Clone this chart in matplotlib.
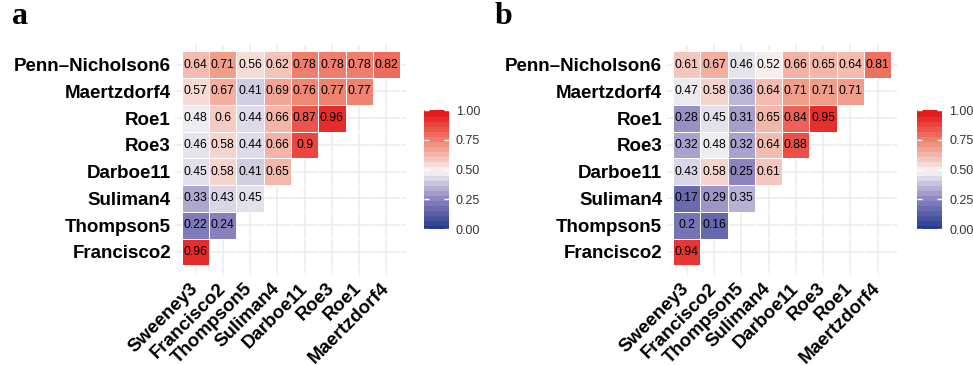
import numpy as np
import matplotlib
matplotlib.use("Agg")
from matplotlib import pyplot as plt
from matplotlib.colors import LinearSegmentedColormap, Normalize
from matplotlib.cm import ScalarMappable

# row / column order as in the figure
rows = ["Penn–Nicholson6", "Maertzdorf4", "Roe1", "Roe3", "Darboe11",
        "Suliman4", "Thompson5", "Francisco2"]
cols = ["Sweeney3", "Francisco2", "Thompson5", "Suliman4", "Darboe11",
        "Roe3", "Roe1", "Maertzdorf4"]

# panel a (lower triangle, one list per row)
vals_a = [
    [0.64, 0.71, 0.56, 0.62, 0.78, 0.78, 0.78, 0.82],
    [0.57, 0.67, 0.41, 0.69, 0.76, 0.77, 0.77],
    [0.48, 0.6, 0.44, 0.66, 0.87, 0.96],
    [0.46, 0.58, 0.44, 0.66, 0.9],
    [0.45, 0.58, 0.41, 0.65],
    [0.33, 0.43, 0.45],
    [0.22, 0.24],
    [0.96],
]

# panel b
vals_b = [
    [0.61, 0.67, 0.46, 0.52, 0.66, 0.65, 0.64, 0.81],
    [0.47, 0.58, 0.36, 0.64, 0.71, 0.71, 0.71],
    [0.28, 0.45, 0.31, 0.65, 0.84, 0.95],
    [0.32, 0.48, 0.32, 0.64, 0.88],
    [0.43, 0.58, 0.25, 0.61],
    [0.17, 0.29, 0.35],
    [0.2, 0.16],
    [0.94],
]

cbar_ticks = [0.0, 0.25, 0.5, 0.75, 1.0]

plt.rcParams["font.family"] = ["Liberation Sans", "DejaVu Sans"]

cmap = LinearSegmentedColormap.from_list(
    "cor", [(0.0, "#233A8F"), (0.25, "#8C83BF"), (0.5, "#F8F6F6"),
            (0.75, "#F08C78"), (1.0, "#E41A1C")])
norm = Normalize(0, 1)


def to_grid(vals):
    n = len(rows)
    grid = np.full((n, n), np.nan)
    for i, r in enumerate(vals):
        grid[i, :len(r)] = r
    return np.ma.masked_invalid(grid)


def draw_panel(ax, cax, vals, letter, lx):
    n = len(rows)
    edges = np.arange(n + 1) - 0.5
    ax.pcolormesh(edges, edges, to_grid(vals), cmap=cmap, norm=norm,
                  edgecolors="white", linewidth=0.5, zorder=2)
    for i, r in enumerate(vals):
        for j, v in enumerate(r):
            ax.text(j, i, str(v), ha="center", va="center", fontsize=8.7,
                    color="black", zorder=3)

    ax.set_xlim(-0.7, n - 0.3)
    ax.set_ylim(n - 0.25, -0.75)
    ax.set_xticks(range(n))
    ax.set_yticks(range(n))
    ax.set_xticklabels(cols, rotation=45, ha="right", va="center",
                       rotation_mode="anchor", fontsize=13.5, fontweight="bold")
    ax.set_yticklabels(rows, fontsize=13.5, fontweight="bold")
    ax.tick_params(axis="both", length=2, color="#EBEBEB", pad=2)
    ax.tick_params(axis="x", pad=8)
    ax.grid(True, color="#EBEBEB", lw=1.1)
    ax.set_axisbelow(True)
    for s in ax.spines.values():
        s.set_visible(False)

    sm = ScalarMappable(norm=norm, cmap=cmap.resampled(24))
    cb = plt.colorbar(sm, cax=cax, ticks=cbar_ticks)
    cb.outline.set_visible(False)
    cb.solids.set_edgecolor("face")
    cb.ax.set_yticklabels([f"{t:.2f}" for t in cbar_ticks])
    cb.ax.tick_params(length=0, labelsize=9, labelcolor="#333333", pad=5)
    # white tick marks inside the bar, on both sides
    cb.ax.hlines(cbar_ticks, 0, 0.2, color="white", lw=1, zorder=5)
    cb.ax.hlines(cbar_ticks, 0.8, 1.0, color="white", lw=1, zorder=5)

    ax.figure.text(lx, 0.935, letter, fontsize=23, fontweight="bold",
                   family="Liberation Serif", va="baseline")


fig = plt.figure(figsize=(9.73, 3.65), dpi=100)
ax_a = fig.add_axes([0.1814, 0.2548, 0.2354, 0.623])
cax_a = fig.add_axes([0.4358, 0.3726, 0.0257, 0.326])
ax_b = fig.add_axes([0.6862, 0.2548, 0.2354, 0.623])
cax_b = fig.add_axes([0.9425, 0.3726, 0.0257, 0.326])

draw_panel(ax_a, cax_a, vals_a, "a", 0.012)
draw_panel(ax_b, cax_b, vals_b, "b", 0.508)

fig.savefig("out.png", dpi=100)
